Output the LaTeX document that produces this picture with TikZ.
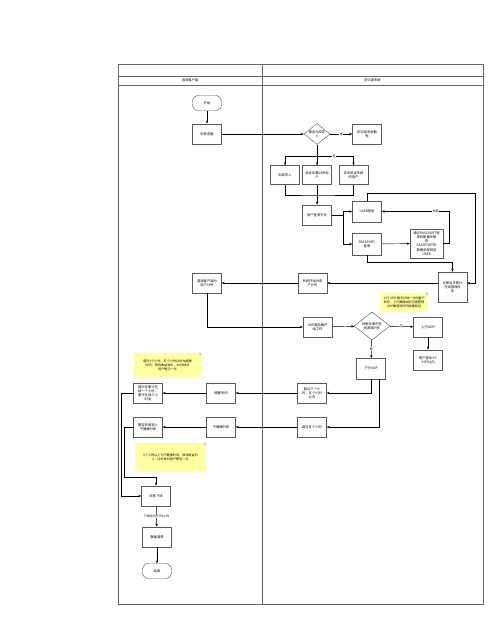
\documentclass[tikz,border=0pt]{standalone}
\usepackage{fontspec}
\newfontfamily\cjk{Noto Sans CJK SC}
\usetikzlibrary{arrows.meta,shapes.geometric}
\definecolor{notefill}{RGB}{255,255,160}
\begin{document}
\begin{tikzpicture}[
        x=1pt, y=-1pt,
        font=\cjk\fontsize{3.3}{4.1}\selectfont,
        line width=0.45pt,
        box/.style={draw=black!65, fill=white, minimum width=29pt, minimum height=20.5pt, align=center, inner sep=0.5pt},
        term/.style={draw=black!65, fill=white, rounded corners=6pt, minimum width=29pt, minimum height=15pt},
        decision/.style={draw=black!65, fill=white, diamond, minimum width=26pt, minimum height=21pt, inner sep=0pt},
        note/.style={fill=notefill, align=center, inner sep=1pt, font=\cjk\fontsize{3.1}{4}\selectfont},
        lbl/.style={fill=white, inner sep=0.4pt, font=\cjk\fontsize{3}{3.6}\selectfont},
        >={Stealth[length=3pt,width=2.4pt]}
    ]
        \useasboundingbox (0,0) rectangle (500,623);

        % swimlanes
        \draw[black!60] (118,64) rectangle (483,604);
        \draw[black!60] (118,76) -- (483,76);
        \draw[black!60] (118,85) -- (483,85);
        \draw[black!60] (262,64) -- (262,604);
        \node (laneclient) at (190,80.5) {游戏客户端};
        \node (lanesys) at (372.5,80.5) {防沉迷系统};

        % notes
        \node[note, minimum width=67pt, minimum height=24pt] (note1) at (167.5,365) {超过3个小时，五个小时以内为提醒\\时间，游戏收益减半，30分钟对\\用户提示一次};
        \node[note, minimum width=71pt, minimum height=29pt] (note2) at (170.5,457.5) {5个小时以上为不健康时间，游戏收益为\\0，15分钟对用户警告一次};
        \node[note, minimum width=48pt, minimum height=19pt] (note3) at (404,302.5) {上行 UPD 每五分钟一次向客户\\状态，上行数据由防沉迷管理\\UDP做游戏时间收集验证};
        \foreach \n in {note1,note2,note3}
            \fill[black!25] ([xshift=-3pt]\n.north east) -- (\n.north east) -- ([yshift=-3pt]\n.north east) -- cycle;

        % client lane
        \node[term] (start) at (207,103) {开始};
        \node[box] (enter) at (207,134) {玩家进服};
        \node[box] (cliclock) at (207,283) {游戏客户端为\\用户计时};
        \node[box] (remind) at (221,393) {提醒时间};
        \node[box] (unhealthy) at (221,427) {不健康时间};
        \node[box] (tip3) at (148,393) {提示您累计在\\线一个小时，\\累计在线三小\\时后};
        \node[box] (warn) at (148,427) {警告玩家进入\\不健康时间};
        \node[box] (offline) at (156,496) {玩家下线};
        \node[box] (clear) at (157,537) {数据清零};
        \node[term] (end) at (157,571) {结束};

        % system lane
        \node[decision, label={[align=center]center:是否为成年\\人}] (adult) at (317,134) {};
        \node[box] (exempt) at (367,134) {防沉迷系统豁\\免};
        \node[box, minimum height=19pt] (minor) at (285,175) {未成年人};
        \node[box, minimum height=19pt] (young) at (317,175) {验证未满18岁用\\户};
        \node[box, minimum height=19pt] (unknown) at (353.5,175) {无法验证年龄\\的用户};
        \node[box] (mode) at (317,215) {用户登录方式};
        \node[box] (user) at (367,211.5) {USER登录};
        \node[box, minimum height=22pt] (pass) at (367,244) {PASSPORT\\登录};
        \node[box, minimum width=33pt, minimum height=29pt] (bind) at (426.5,243.5) {通过PASSPORT登\\录的数据关联\\将\\PASSPORT的\\数据关联到该\\USER};
        \node[box, minimum height=30pt] (calc) at (452.5,287) {计算当天累计\\在线游戏时\\间};
        \node[box] (sysclock) at (312.5,283) {系统开始为用\\户计时};
        \node[box] (udp) at (317.5,327) {UDP服务器开\\始工作};
        \node[decision, minimum width=36pt, minimum height=28pt, label={[align=center]center:判断玩家的在\\线游戏时长}] (hours) at (372,326) {};
        \node[box] (up) at (428,327) {上行UDP};
        \node[box] (under3) at (428,360) {用户游戏3个\\小时以内};
        \node[box] (down) at (371,368.5) {下行UDP};
        \node[box] (over3) at (312,393) {超过三个小\\时，五个小时\\以内};
        \node[box] (over5) at (312,427) {超过五个小时};

        \coordinate (split) at (317,156);
        \coordinate (join) at (317,195);
        \coordinate (loop) at (475,193);
        \coordinate (under) at (452.5,262);
        \coordinate (merge) at (156,477);

        \draw[->] (start) -- (enter);
        \draw[->] (enter) -- (adult);
        \draw[->] (adult) -- (exempt) node[midway, lbl] {是};
        \draw (adult.south) -- (split);
        \draw[->] (split) -| (minor);
        \draw[->] (split) -- (young);
        \draw[->] (split) -| (unknown);
        \node[lbl] (nolbl) at (334,156) {否};
        \draw (minor.south) |- (join) -| (unknown.south);
        \draw[->] (young) -- (mode);
        \draw[->] (mode.east) -- ++(11,0) |- (user);
        \draw[->] (mode.east) -- ++(11,0) |- (pass);
        \draw[->] (pass) -- (bind);
        \draw[->] (bind.east) -- ++(6,0) |- (user) node[pos=0.6, lbl] {关联};
        \draw[->] (user.north) |- (loop) |- (calc.east |- sysclock);
        \draw[->] (pass.south) |- (under) -- (calc.north);
        \draw[->] (calc.west |- sysclock) -- (sysclock);
        \draw[->] (sysclock) -- (cliclock);
        \draw[->] (cliclock.south) |- (udp);
        \draw[->] (udp) -- (hours);
        \draw[->] (hours) -- (up) node[midway, lbl] {否};
        \draw[->] (up) -- (under3);
        \draw[->] (hours) -- (down) node[midway, lbl] {是};
        \draw[->] (down.south) |- (over3);
        \draw[->] ([xshift=8pt]down.south) |- (over5);
        \draw[->] (over3) -- (remind);
        \draw[->] (remind) -- (tip3);
        \draw[->] (over5) -- (unhealthy);
        \draw[->] (unhealthy) -- (warn);
        \draw[->] (tip3.west) -- ++(-12,0) |- (offline);
        \draw[->] (warn.west) -- ++(-9,0) |- (merge) -- (offline);
        \draw[->] (offline) -- (clear) node[midway, lbl] {下线时间大于5小时};
        \draw[->] (clear) -- (end);
\end{tikzpicture}
\end{document}
